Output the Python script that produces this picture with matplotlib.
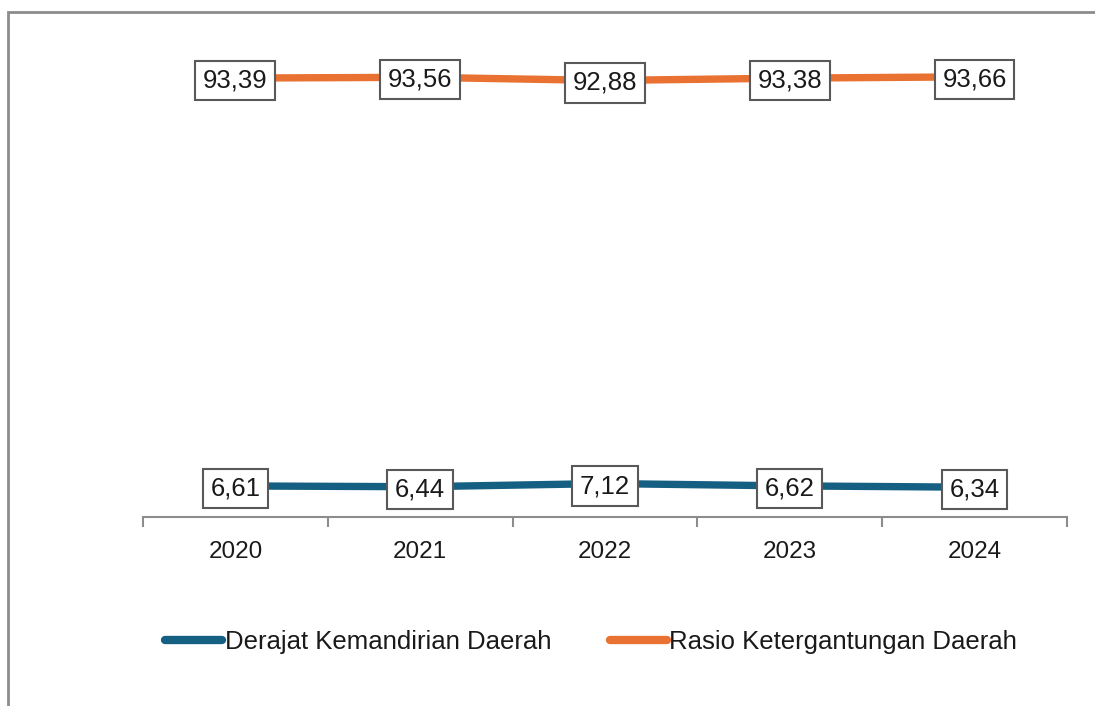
import matplotlib.pyplot as plt
from matplotlib.patches import Rectangle

# Data
years = ['2020', '2021', '2022', '2023', '2024']
derajat = [6.61, 6.44, 7.12, 6.62, 6.34]
rasio = [93.39, 93.56, 92.88, 93.38, 93.66]

blue = '#156082'
orange = '#E97132'

plt.rcParams['font.family'] = ['Liberation Sans', 'DejaVu Sans']

fig = plt.figure(figsize=(10.95, 7.06), dpi=100)
ax = fig.add_axes([0.1306, 0.2677, 0.8438, 0.6657])

x = list(range(len(years)))
ax.plot(x, derajat, color=blue, lw=5.3, solid_capstyle='round', label='Derajat Kemandirian Daerah', zorder=2)
ax.plot(x, rasio, color=orange, lw=5.3, solid_capstyle='round', label='Rasio Ketergantungan Daerah', zorder=2)

# value labels in boxes
for series in (derajat, rasio):
    for xi, v in zip(x, series):
        ax.text(xi, v, f'{v:.2f}'.replace('.', ','), ha='center', va='center_baseline',
                fontsize=18.5, color='#1a1a1a', zorder=3,
                bbox=dict(boxstyle='square,pad=0.3', fc='white', ec='#595959', lw=1.5))

ax.set_xlim(-0.5, 4.5)
ax.set_ylim(0, 100)
ax.set_xticks(x)
ax.set_xticklabels(years, fontsize=17.5, color='#1a1a1a')
ax.set_xticks([i - 0.5 for i in range(len(years) + 1)], minor=True)
ax.tick_params(axis='x', which='major', length=0, pad=17)
ax.tick_params(axis='x', which='minor', length=7, width=1.5, color='#8c8c8c', direction='out')
ax.set_yticks([])
for side in ('top', 'right', 'left'):
    ax.spines[side].set_visible(False)
ax.spines['bottom'].set_color('#8c8c8c')
ax.spines['bottom'].set_linewidth(1.5)

leg = fig.legend(loc='center', bbox_to_anchor=(0.540, 0.090), ncol=2, frameon=False,
                 fontsize=18.5, handlelength=2.2, handletextpad=0.1, columnspacing=2.3)
for line in leg.get_lines():
    line.set_linewidth(6)
for t in leg.get_texts():
    t.set_color('#1a1a1a')

# chart area border (left and top edges)
fig.patches.append(Rectangle((8 / 1095, -0.5), 2.0, 0.5 + (706 - 12) / 706,
                             transform=fig.transFigure, fill=False,
                             ec='#8c8c8c', lw=2))

fig.savefig('out.png', dpi=100)
